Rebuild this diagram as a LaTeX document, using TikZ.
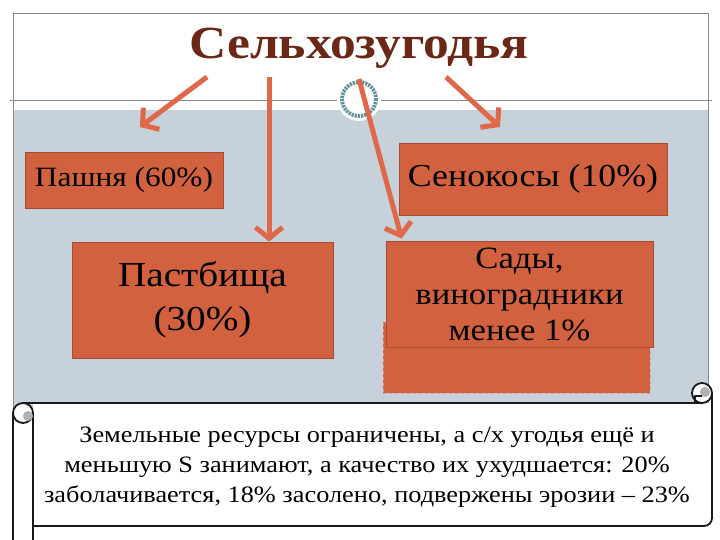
\documentclass[tikz,border=0pt]{standalone}
\usepackage{fontspec}
\setmainfont{Liberation Serif}
\newfontfamily\wideserif[FakeStretch=1.12]{Liberation Serif}
\usetikzlibrary{arrows.meta,calc}
\definecolor{boxred}{HTML}{D2613F}
\definecolor{boxedge}{HTML}{A84A33}
\definecolor{arrred}{HTML}{E0684A}
\definecolor{titlebrown}{HTML}{6B2816}
\definecolor{panel}{HTML}{C6D1D9}
\definecolor{framegray}{HTML}{8A8A8A}
\definecolor{ringteal}{HTML}{5E9199}
\definecolor{curlgray}{HTML}{B0B0B0}
\tikzset{
  landbox/.style={draw=boxedge, line width=0.8pt, fill=boxred, align=center, inner sep=0pt},
  arr/.style={draw=arrred, line width=5pt, -{Straight Barb[length=11pt,width=27pt]}},
  scrollline/.style={draw=black!90, line width=1.8pt, line join=round}
}

\begin{document}
\begin{tikzpicture}[x=1pt,y=-1pt]
  \useasboundingbox (0,0) rectangle (720,540);
  % frame and panel
  \fill[panel] (13,110) rectangle (708,520);
  \draw[framegray, line width=0.8pt] (13,520) -- (13,13) -- (708,13) -- (708,520);
  \draw[framegray, line width=0.8pt] (10,100) -- (712,100);
  % ornament
  \fill[white] (359,99) circle (22);
  \draw[ringteal, line width=3.8pt, dash pattern=on 2.2pt off 1pt] (359,99) circle (17);
  % title
  \node[font=\wideserif\bfseries\fontsize{46}{46}\selectfont, text=titlebrown] (title) at (359,48) {Сельхозугодья};
  % boxes
  \node[landbox, minimum width=198pt, minimum height=56pt, font=\wideserif\fontsize{28}{30}\selectfont] (arable) at (124,180) {Пашня (60\%)};
  \node[landbox, minimum width=261pt, minimum height=116pt, font=\wideserif\fontsize{35}{44}\selectfont] (pasture) at (202.5,300) {Пастбища\\(30\%)};
  \node[landbox, minimum width=268pt, minimum height=72pt, font=\wideserif\fontsize{32}{36}\selectfont] (hay) at (533,179) {Сенокосы (10\%)};
  \node[landbox, draw=boxedge!50, dashed, minimum width=267pt, minimum height=71pt] (gardenlow) at (516.5,357.5) {};
  \node[landbox, minimum width=267pt, minimum height=106pt, font=\wideserif\fontsize{31}{36}\selectfont] (gardens) at (519.5,294) {Сады,\\виноградники\\менее 1\%};
  % arrows
  \coordinate (t1) at (207,77);
  \coordinate (h1) at (140,127);
  \coordinate (t2) at (269,77);
  \coordinate (h2) at (t2 |- pasture.north);
  \coordinate (t3) at (359,79);
  \coordinate (h3) at ($(gardens.north west)+(16,-2)$);
  \coordinate (t4) at (446,77);
  \coordinate (h4) at (500,127);
  \foreach \a/\b in {t1/h1, t2/h2, t3/h3, t4/h4} {
    \draw[arr] (\a) -- (\b);
  }
  % scroll
  \fill[white] (33,403) -- (712,403) -- (712,518) arc (0:90:8) -- (33,526) -- cycle;
  \fill[white] (13,413) rectangle (33,545);
  \draw[scrollline] (33,413) -- (33,545);
  \draw[scrollline] (13,413) -- (13,545);
  \draw[scrollline] (23,403) -- (702,403);
  \draw[scrollline] (712,393) -- (712,518) arc (0:90:8) -- (33,526);
  \filldraw[scrollline, fill=white] (23,413) circle (10);
  \fill[curlgray] (28,416) circle (5);
  \filldraw[scrollline, fill=white] (702,393) circle (10);
  \fill[curlgray] (705,392) circle (5);
  \draw[scrollline, line width=1.2pt] (695,403) -- (695,396) -- (702,396);
  \node[align=center, font=\wideserif\fontsize{23.5}{30}\selectfont] (note) at (367,467)
    {Земельные ресурсы ограничены, а с/х угодья ещё и\\меньшую S занимают, а качество их ухудшается: 20\%\\заболачивается, 18\% засолено, подвержены эрозии – 23\%};
\end{tikzpicture}
\end{document}
